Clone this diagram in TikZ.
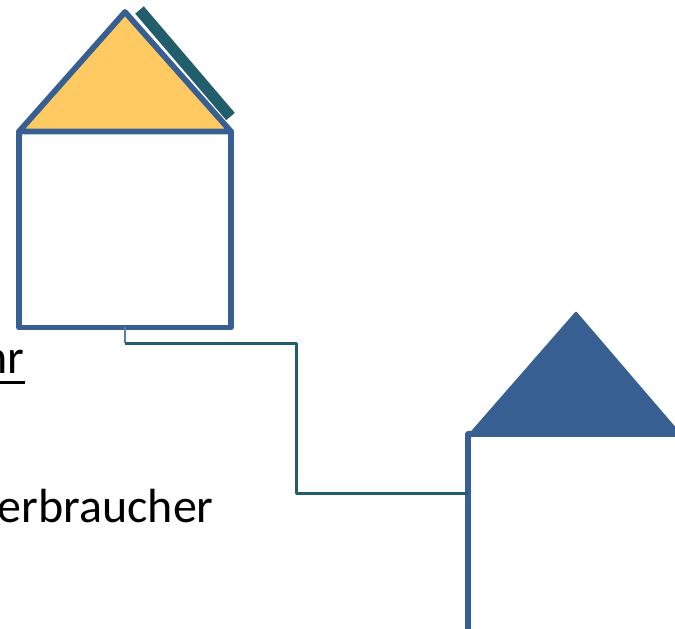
\documentclass[tikz,border=0pt]{standalone}
\usepackage{fontspec}
\setmainfont{Carlito}
\usetikzlibrary{calc}
\definecolor{hsBlue}{HTML}{385F91}
\definecolor{hsOrange}{HTML}{FFCA61}
\definecolor{hsTeal}{HTML}{215D6B}
\definecolor{hsTap}{HTML}{4F81BD}
\tikzset{
  % one unit is one pixel of the picture, y runs downwards
  every picture/.append style = {x=0.02cm, y=-0.02cm},
  housebody/.style = {rectangle, draw=hsBlue, fill=white, line width=0.115cm,
                      line join=round, minimum width=4.24cm, inner sep=0pt, outer sep=0pt},
  roofline/.style  = {draw=hsBlue, line width=0.115cm, line join=round},
  panelbar/.style  = {hsTeal, line width=0.225cm},
  feedline/.style  = {hsTeal, line width=0.06cm, line join=round},
  tapline/.style   = {hsTap, line width=0.04cm},
  lbl/.style       = {font=\fontsize{27.3pt}{32pt}\selectfont, inner sep=0pt, text=black},
  lblrule/.style   = {black, line width=0.06cm},
}
\begin{document}
\begin{tikzpicture}
  \useasboundingbox (0,0) rectangle (675,628);
  % house with the panel
  \node[housebody, minimum height=3.92cm] (body1) at (125,229.5) {};
  \coordinate (apex1) at (125,12);
  \draw[roofline, fill=hsOrange] (body1.north west) -- (apex1) -- (body1.north east) -- cycle;
  \draw[panelbar] (139.5,10) -- (230.5,116.5);
  % house at the end of the line
  \node[housebody, minimum height=3.95cm] (body2) at (574,533) {};
  \coordinate (apex2) at (576,313);
  \draw[roofline, fill=hsBlue, line width=0.05cm] ($(body2.north west)+(2,0)$) -- (apex2)
    -- (body2.north east) -- cycle;
  % line between the houses
  \coordinate (tap1) at (125,343);
  \coordinate (bend1) at (296,343);
  \coordinate (bend2) at (296,493);
  \coordinate (tap2) at (body2.west |- bend2);
  \draw[tapline] (body1.south) -- (tap1);
  \draw[feedline] (tap1) -- (bend1) -- (bend2) -- (tap2);
  % labels, both run off the left edge
  \node[lbl, anchor=base east] (jahrlbl) at (25,373) {Jahr};
  \draw[lblrule] ($(jahrlbl.base west)+(0,9)$) -- ($(jahrlbl.base east)+(0,9)$);
  \node[lbl, anchor=base east] (verblbl) at (214,522) {V{}erbraucher};
\end{tikzpicture}
\end{document}
